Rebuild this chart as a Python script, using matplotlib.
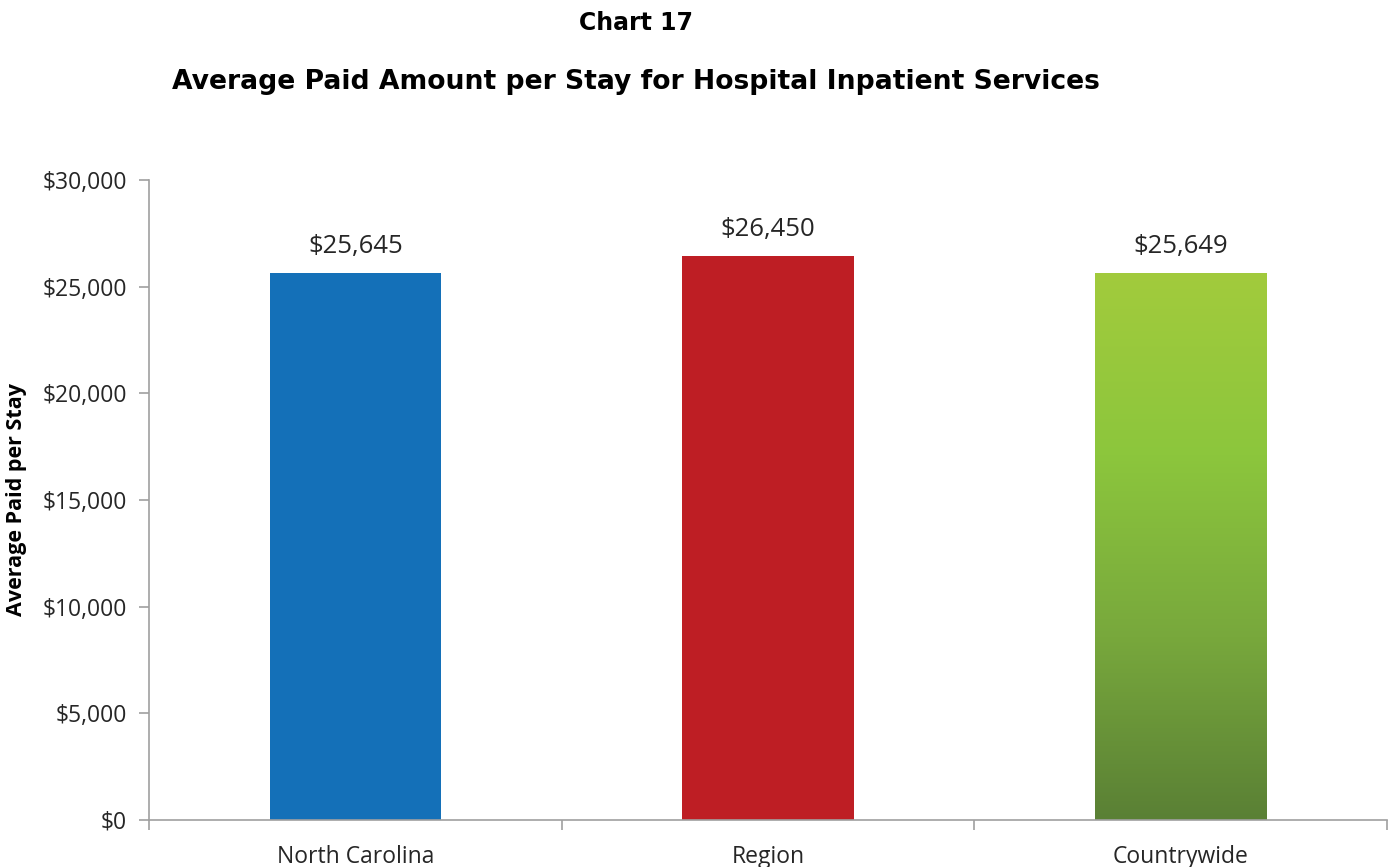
import matplotlib
matplotlib.use("Agg")
import matplotlib.pyplot as plt
import numpy as np
from matplotlib.ticker import FuncFormatter, FixedLocator
from matplotlib.colors import LinearSegmentedColormap

categories = ["North Carolina", "Region", "Countrywide"]
values = [25645, 26450, 25649]
value_labels = ["$25,645", "$26,450", "$25,649"]
colors = ["#1470b8", "#be1e24", "#a2cb3c"]

fig = plt.figure(figsize=(13.93, 8.67), dpi=100)
ax = fig.add_axes([149/1393, 1-820/867, (1387-149)/1393, (820-180)/867])

x = np.arange(len(categories))
bars = ax.bar(x, values, width=0.415, color=colors, zorder=3)

# gradient for the last bar
gb = bars[2]
cmap = LinearSegmentedColormap.from_list("g", ["#5a8035", "#78a83c", "#8cc63d", "#a2cb3c"])
grad = np.linspace(0, 1, 256).reshape(-1, 1)
bx = gb.get_x()
im = ax.imshow(grad, cmap=cmap, aspect="auto", origin="lower",
               extent=[bx, bx + gb.get_width(), 0, gb.get_height()], zorder=3.5)
im.set_clip_path(gb)

for xi, v, lab in zip(x, values, value_labels):
    ax.text(xi, v + 650, lab, ha="center", va="bottom", fontsize=18.5,
            family="Open Sans", color="#262626")

ax.set_xlim(-0.5, 2.5)
ax.set_ylim(0, 30000)
ax.set_yticks(np.arange(0, 30001, 5000))
ax.yaxis.set_major_formatter(FuncFormatter(lambda v, p: f"${int(v):,}"))
ax.set_xticks(x)
ax.set_xticklabels(categories)
ax.xaxis.set_minor_locator(FixedLocator([-0.5, 0.5, 1.5, 2.5]))
ax.tick_params(axis="x", which="major", length=0, pad=18)
ax.tick_params(axis="x", which="minor", length=7, color="#a0a0a0", width=1.2)
ax.tick_params(axis="y", length=7, color="#a0a0a0", width=1.2, pad=9)
for lab in ax.get_xticklabels() + ax.get_yticklabels():
    lab.set_family("Open Sans")
    lab.set_fontsize(16.5)
    lab.set_color("#262626")

for s in ["top", "right"]:
    ax.spines[s].set_visible(False)
for s in ["left", "bottom"]:
    ax.spines[s].set_color("#a0a0a0")
    ax.spines[s].set_linewidth(1.2)
ax.spines["bottom"].set_zorder(5)

ax.set_ylabel("Average Paid per Stay", fontsize=15.5, fontweight="bold",
              family="Open Sans", color="black")
ax.yaxis.set_label_coords(-0.0985, 0.5)

fig.text(636/1393, 1-23/867, "Chart 17", ha="center", va="center",
         fontsize=17, fontweight="bold", family="DejaVu Sans")
fig.text(636/1393, 1-82/867, "Average Paid Amount per Stay for Hospital Inpatient Services",
         ha="center", va="center", fontsize=19.2, fontweight="bold", family="DejaVu Sans")

fig.savefig("out.png", dpi=100)
